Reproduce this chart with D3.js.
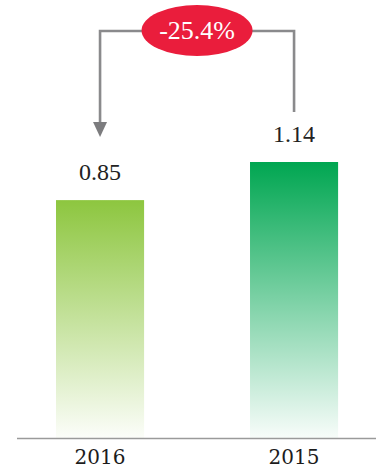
<!DOCTYPE html>
<html>
<head>
<meta charset="utf-8">
<script src="https://cdn.jsdelivr.net/npm/d3@7"></script>
<style>
  html, body { margin: 0; padding: 0; background: #ffffff; }
  svg { display: block; }
</style>
</head>
<body>
<svg id="chart" width="376" height="470"></svg>
<script>
// Chart data
const years = ["2016", "2015"];
const values = [0.85, 1.14];
const valueLabels = ["0.85", "1.14"];
const changeLabel = "-25.4%";
const topColors = ["#8dc63f", "#00a651"];

const baseline = 438;
const svg = d3.select("#chart");

const x = d3.scaleBand().domain(years).range([-2.2, 396.3]).paddingInner(0.546).paddingOuter(0.3);
const y = d3.scaleLinear().domain([-0.96, 1.14]).range([baseline, 162]);

// fading vertical gradients for each bar
const defs = svg.append("defs");
years.forEach((yr, i) => {
  const g = defs.append("linearGradient")
    .attr("id", "grad" + yr)
    .attr("x1", 0).attr("y1", 0).attr("x2", 0).attr("y2", 1);
  g.append("stop").attr("offset", "0%").attr("stop-color", topColors[i]).attr("stop-opacity", 1);
  g.append("stop").attr("offset", "100%").attr("stop-color", topColors[i]).attr("stop-opacity", 0.03);
});

// bars
svg.selectAll("rect.bar").data(years).join("rect")
  .attr("class", "bar")
  .attr("x", d => x(d))
  .attr("width", x.bandwidth())
  .attr("y", (d, i) => y(values[i]))
  .attr("height", (d, i) => baseline - y(values[i]))
  .attr("fill", d => `url(#grad${d})`);

// baseline axis
const axis = svg.append("g").attr("transform", `translate(0,${baseline})`)
  .call(d3.axisBottom(x).tickSize(0).tickPadding(12));
axis.select(".domain").attr("d", `M17,0.5H376`).attr("stroke", "#9a9a9a").attr("stroke-width", 1.6);
axis.selectAll("text")
  .attr("font-family", "'DejaVu Serif', serif")
  .attr("font-size", 20)
  .attr("fill", "#1c1c1c")
  .attr("dy", "0.71em");

// value labels
svg.selectAll("text.val").data(years).join("text")
  .attr("class", "val")
  .attr("x", d => x(d) + x.bandwidth() / 2)
  .attr("y", (d, i) => y(values[i]) - 20)
  .attr("text-anchor", "middle")
  .attr("font-family", "'Liberation Serif', serif")
  .attr("font-size", 24)
  .attr("fill", "#222")
  .text((d, i) => valueLabels[i]);

// comparison connector
const lx = x("2016") + x.bandwidth() / 2;
const rx = x("2015") + x.bandwidth() / 2;
const topY = 31;
svg.append("path")
  .attr("d", `M${rx},112V${topY}H${lx}V124`)
  .attr("fill", "none")
  .attr("stroke", "#8a8a8c")
  .attr("stroke-width", 2.6);
svg.append("path")
  .attr("d", `M${lx - 7},122L${lx + 7},122L${lx},137Z`)
  .attr("fill", "#7c7c7e");

const cx = (lx + rx) / 2;
svg.append("ellipse")
  .attr("cx", cx).attr("cy", 30.5)
  .attr("rx", 55.5).attr("ry", 25.5)
  .attr("fill", "#ea1d3c");
svg.append("text")
  .attr("x", cx).attr("y", 39)
  .attr("text-anchor", "middle")
  .attr("font-family", "'Liberation Serif', serif")
  .attr("font-size", 26)
  .attr("fill", "#ffffff")
  .text(changeLabel);
</script>
</body>
</html>
